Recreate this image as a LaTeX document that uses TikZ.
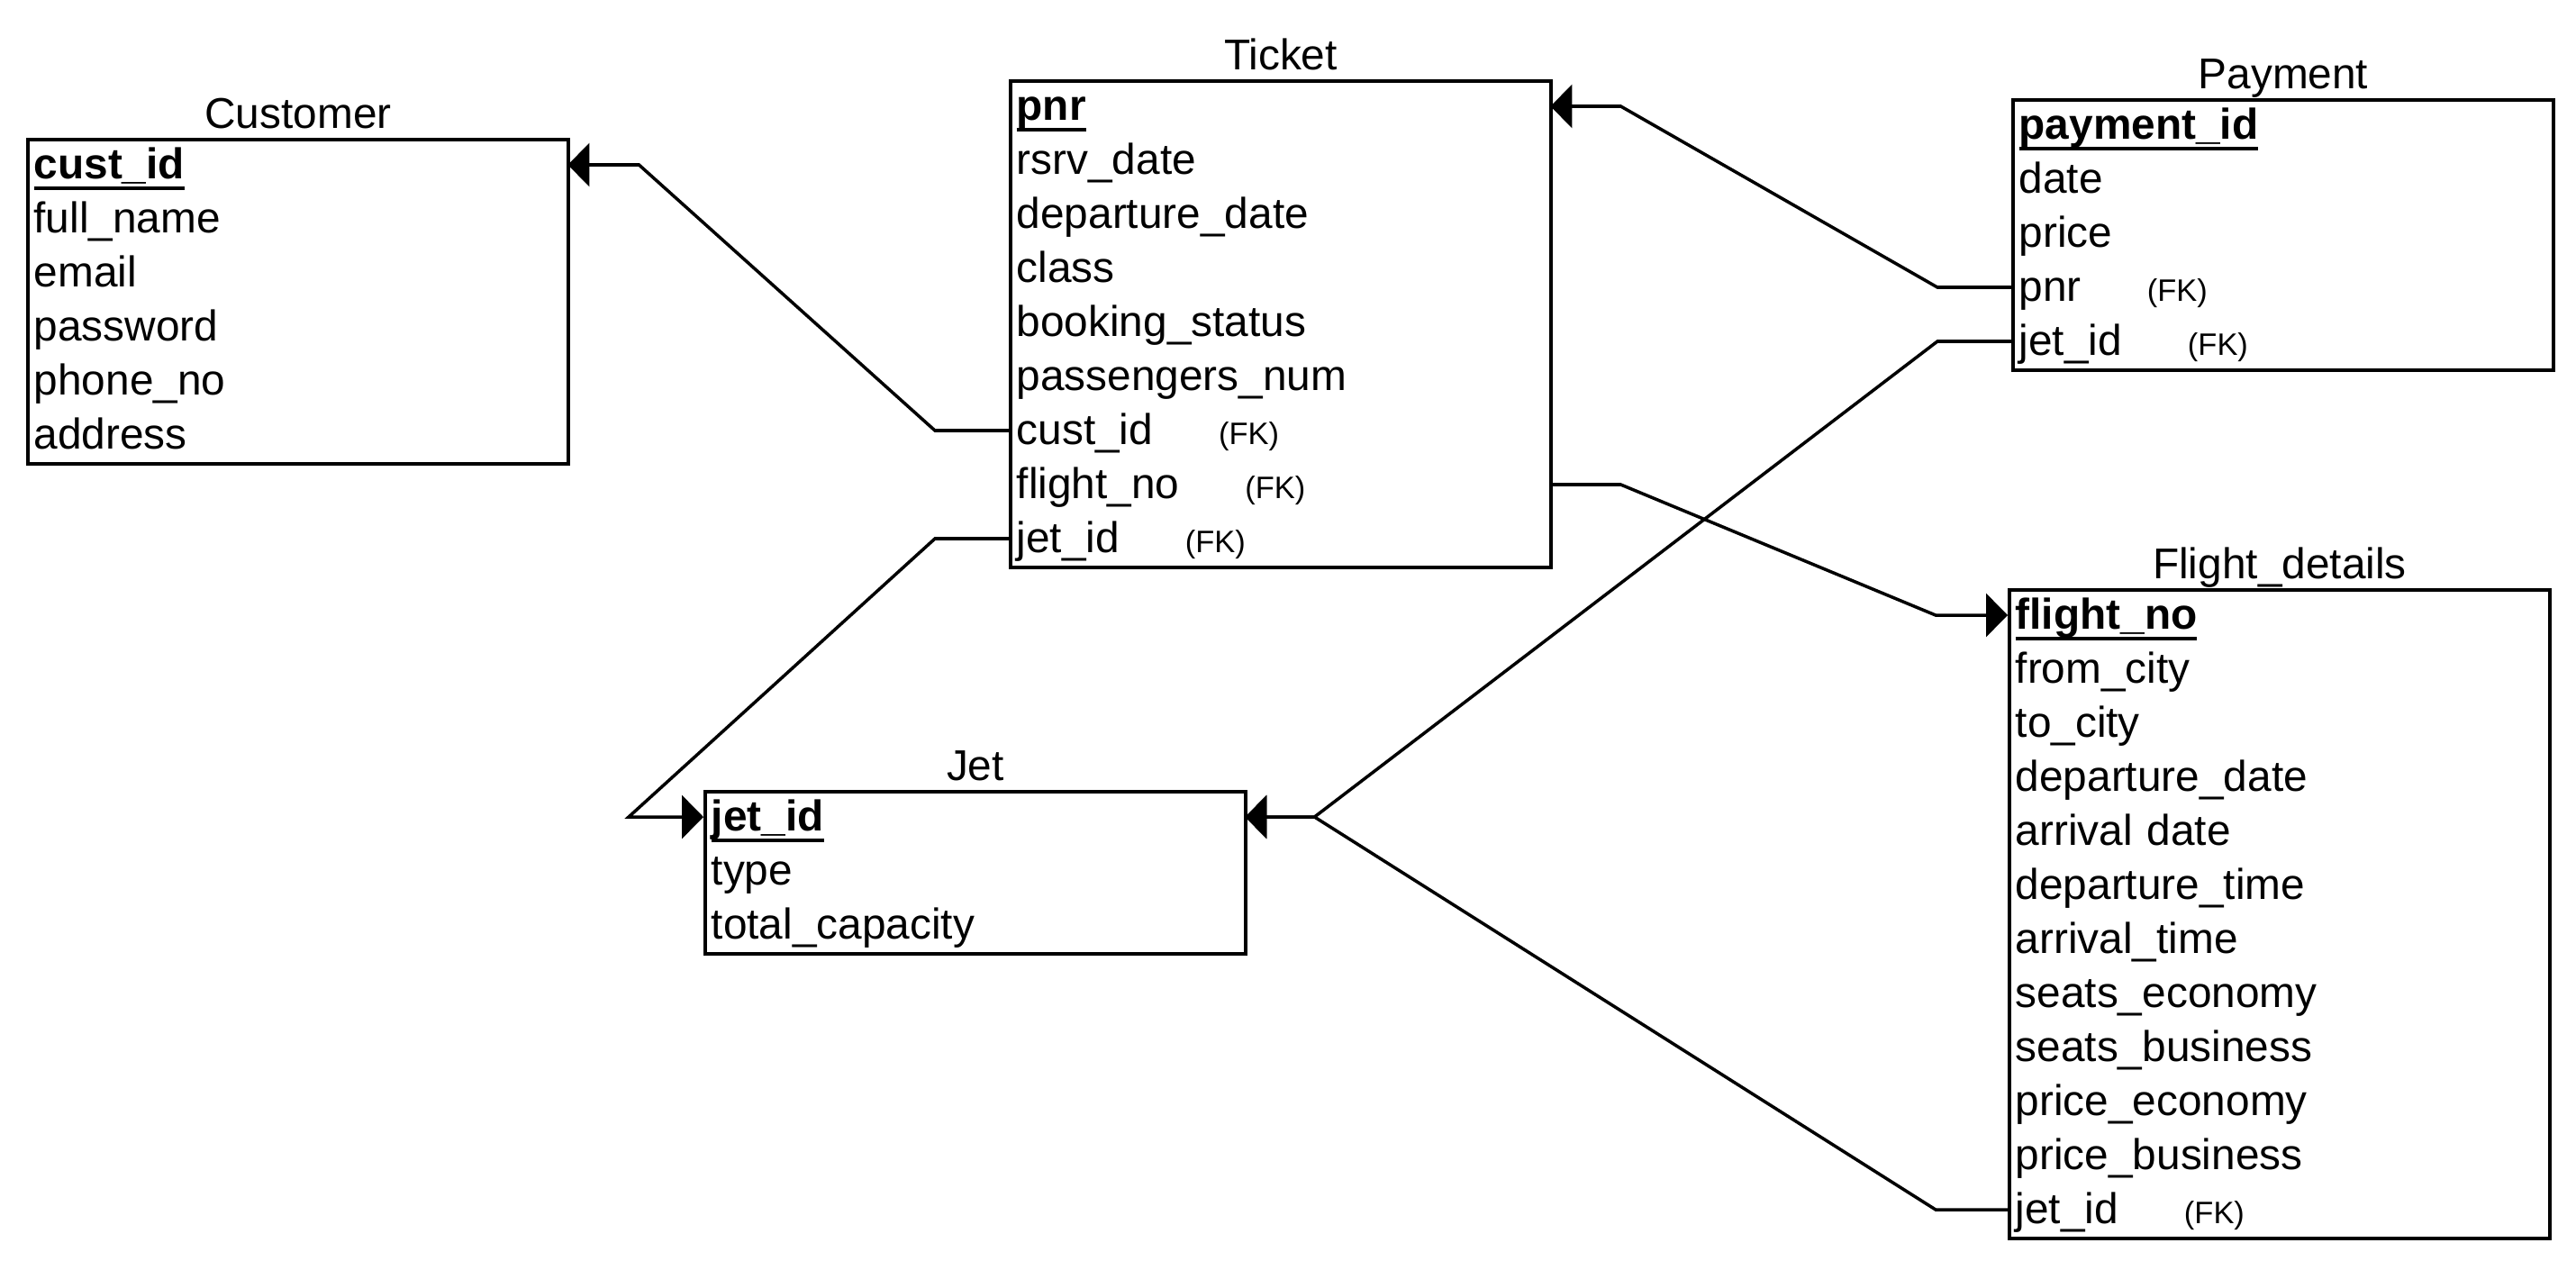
\documentclass[tikz,border=0pt]{standalone}
\usepackage{fontspec}
\setmainfont{Liberation Sans}
\usetikzlibrary{arrows.meta}

\newlength{\pkw}
\newcommand{\fk}{\hspace*{7.3mm}{\fontsize{9.8}{12}\selectfont(FK)}}
\newcommand{\pkey}[1]{\settowidth{\pkw}{\textbf{#1}}\textbf{#1}\hspace*{-\pkw}\rule[-1.2mm]{\pkw}{0.38mm}}

\begin{document}
\begin{tikzpicture}[
    entity/.style={draw, line width=1.1pt, minimum width=6cm, anchor=north west, inner sep=0pt},
    tabletitle/.style={anchor=base, yshift=1.05mm},
    field/.style={anchor=west, minimum width=6cm, minimum height=6mm, text width=5.84cm,
        inner xsep=0.8mm, inner ysep=0pt, text height=4.1mm, text depth=1mm, align=left},
    fkline/.style={line width=1pt, -{Triangle[length=2.4mm,width=4.8mm]}},
    font=\fontsize{13.6}{16}\selectfont]
                        \useasboundingbox (0,0) rectangle (28.6,-14);

                        % Customer
                        \node[entity, minimum height=3.6cm] (cust) at (0.29,-1.53) {};
                        \node[tabletitle] at (cust.north) {Customer};
                        \node[field] (cu-id) at (0.29,-1.83) {\pkey{cust\_id}};
                        \node[field] (cu-name) at (0.29,-2.43) {full\_name};
                        \node[field] (cu-mail) at (0.29,-3.03) {email};
                        \node[field] (cu-pass) at (0.29,-3.63) {password};
                        \node[field] (cu-phone) at (0.29,-4.23) {phone\_no};
                        \node[field] (cu-addr) at (0.29,-4.83) {address};

                        % Ticket
                        \node[entity, minimum height=5.4cm] (ticket) at (11.2,-0.88) {};
                        \node[tabletitle] at (ticket.north) {Ticket};
                        \node[field] (tk-pnr) at (11.2,-1.18) {\pkey{pnr}};
                        \node[field] (tk-rsrv) at (11.2,-1.78) {rsrv\_date};
                        \node[field] (tk-dep) at (11.2,-2.38) {departure\_date};
                        \node[field] (tk-class) at (11.2,-2.98) {class};
                        \node[field] (tk-status) at (11.2,-3.58) {booking\_status};
                        \node[field] (tk-pass) at (11.2,-4.18) {passengers\_num};
                        \node[field] (tk-cust) at (11.2,-4.78) {cust\_id\fk};
                        \node[field] (tk-flight) at (11.2,-5.38) {flight\_no\fk};
                        \node[field] (tk-jet) at (11.2,-5.98) {jet\_id\fk};

                        % Payment
                        \node[entity, minimum height=3cm] (payment) at (22.33,-1.09) {};
                        \node[tabletitle] at (payment.north) {Payment};
                        \node[field] (py-id) at (22.33,-1.39) {\pkey{payment\_id}};
                        \node[field] (py-date) at (22.33,-1.99) {date};
                        \node[field] (py-price) at (22.33,-2.59) {price};
                        \node[field] (py-pnr) at (22.33,-3.19) {pnr\fk};
                        \node[field] (py-jet) at (22.33,-3.79) {jet\_id\fk};

                        % Flight_details
                        \node[entity, minimum height=7.2cm] (flight) at (22.29,-6.53) {};
                        \node[tabletitle] at (flight.north) {Flight\_details};
                        \node[field] (fl-no) at (22.29,-6.83) {\pkey{flight\_no}};
                        \node[field] (fl-from) at (22.29,-7.43) {from\_city};
                        \node[field] (fl-to) at (22.29,-8.03) {to\_city};
                        \node[field] (fl-depd) at (22.29,-8.63) {departure\_date};
                        \node[field] (fl-arrd) at (22.29,-9.23) {arrival date};
                        \node[field] (fl-dept) at (22.29,-9.83) {departure\_time};
                        \node[field] (fl-arrt) at (22.29,-10.43) {arrival\_time};
                        \node[field] (fl-seco) at (22.29,-11.03) {seats\_economy};
                        \node[field] (fl-sbus) at (22.29,-11.63) {seats\_business};
                        \node[field] (fl-peco) at (22.29,-12.23) {price\_economy};
                        \node[field] (fl-pbus) at (22.29,-12.83) {price\_business};
                        \node[field] (fl-jet) at (22.29,-13.43) {jet\_id\fk};

                        % Jet
                        \node[entity, minimum height=1.8cm] (jet) at (7.81,-8.77) {};
                        \node[tabletitle] at (jet.north) {Jet};
                        \node[field] (jt-id) at (7.81,-9.07) {\pkey{jet\_id}};
                        \node[field] (jt-type) at (7.81,-9.67) {type};
                        \node[field] (jt-cap) at (7.81,-10.27) {total\_capacity};

                        % Edges
                        \draw[fkline] (tk-cust.west) -- ++(-0.82,0) -- ([xshift=0.79cm]cu-id.east) -- (cu-id.east);
                        \draw[fkline] (tk-jet.west) -- ++(-0.82,0) -- ([xshift=-0.83cm]jt-id.west) -- (jt-id.west);
                        \draw[fkline] (tk-flight.east) -- ++(0.78,0) -- ([xshift=-0.8cm]fl-no.west) -- (fl-no.west);
                        \draw[fkline] (py-pnr.west) -- ++(-0.82,0) -- ([xshift=0.78cm]tk-pnr.east) -- (tk-pnr.east);
                        \draw[fkline] (py-jet.west) -- ++(-0.82,0) -- ([xshift=0.77cm]jt-id.east) -- (jt-id.east);
                        \draw[fkline] (fl-jet.west) -- ++(-0.8,0) -- ([xshift=0.77cm]jt-id.east) -- (jt-id.east);
                    \end{tikzpicture}
\end{document}
